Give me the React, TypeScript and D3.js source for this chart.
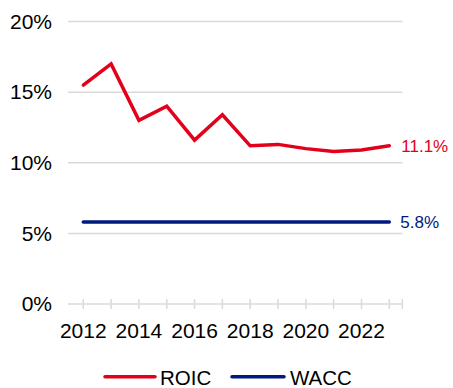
import React from "react";
import * as d3 from "d3";

const years = [2012, 2013, 2014, 2015, 2016, 2017, 2018, 2019, 2020, 2021, 2022, 2023];
const roic = [15.5, 17.0, 13.0, 14.0, 11.6, 13.4, 11.2, 11.3, 11.0, 10.8, 10.9, 11.2];
const wacc = [5.8, 5.8, 5.8, 5.8, 5.8, 5.8, 5.8, 5.8, 5.8, 5.8, 5.8, 5.8];
const yTicks = [0, 5, 10, 15, 20];
const xLabelYears = [2012, 2014, 2016, 2018, 2020, 2022];
const roicLabel = "11.1%";
const waccLabel = "5.8%";
const seriesNames = ["ROIC", "WACC"];

const RED = "#e2001a";
const NAVY = "#001a80";
const GRID = "#d9d9d9";
const FONT = "'Liberation Sans', Arial, sans-serif";

export default function App() {
  const W = 453, H = 388;
  const x = d3.scaleLinear().domain([2012, 2023]).range([83.3, 389.3]);
  const y = d3.scaleLinear().domain([0, 20]).range([304, 21.5]);
  const axisStart = x(2011.45);
  const axisEnd = x(2023.47);
  const line = d3.line<number>().x((_, i) => x(years[i])).y((d) => y(d));
  const last = years.length - 1;

  return (
    <svg width={W} height={H} style={{ position: "absolute", left: 0, top: 0, fontFamily: FONT }}>
      <rect width={W} height={H} fill="#fff" />
      {yTicks.map((t) => (
        <g key={t}>
          <line x1={axisStart} x2={axisEnd} y1={y(t)} y2={y(t)} stroke={GRID} strokeWidth={1.5} />
          <text x={52} y={y(t)} dy="0.35em" textAnchor="end" fontSize={21} fill="#000">
            {t}%
          </text>
        </g>
      ))}
      {[...years, 2023.47].map((yr) => (
        <line key={yr} x1={x(yr)} x2={x(yr)} y1={y(0) - 5} y2={y(0) + 5} stroke={GRID} strokeWidth={1.5} />
      ))}
      {xLabelYears.map((yr) => (
        <text key={yr} x={x(yr)} y={338} textAnchor="middle" fontSize={21} fill="#000">
          {yr}
        </text>
      ))}
      <path d={line(wacc) || ""} fill="none" stroke={NAVY} strokeWidth={3.5} strokeLinecap="round" />
      <path d={line(roic) || ""} fill="none" stroke={RED} strokeWidth={3.5} strokeLinecap="round" strokeLinejoin="miter" />
      <text x={x(years[last]) + 12} y={y(roic[last])} dy="0.35em" fontSize={17} fill={RED}>
        {roicLabel}
      </text>
      <text x={x(years[last]) + 11} y={y(wacc[last])} dy="0.35em" fontSize={17} fill={NAVY}>
        {waccLabel}
      </text>
      <g>
        <line x1={105} x2={155} y1={376.7} y2={376.7} stroke={RED} strokeWidth={3.5} strokeLinecap="round" />
        <text x={160} y={384.5} fontSize={20.5} fill="#000">{seriesNames[0]}</text>
        <line x1={232} x2={284} y1={376.7} y2={376.7} stroke={NAVY} strokeWidth={3.5} strokeLinecap="round" />
        <text x={290} y={384.5} fontSize={20.5} fill="#000">{seriesNames[1]}</text>
      </g>
    </svg>
  );
}
